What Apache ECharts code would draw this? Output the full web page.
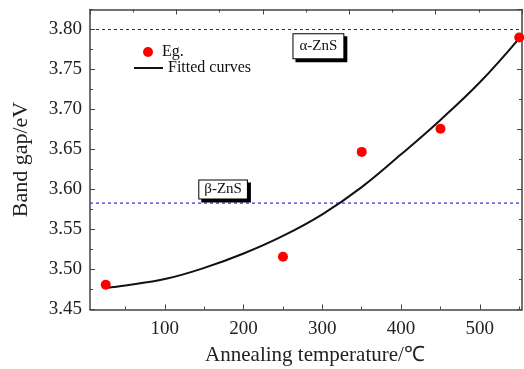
<!DOCTYPE html>
<html>
<head>
<meta charset="utf-8">
<script src="https://cdn.jsdelivr.net/npm/echarts@6/dist/echarts.min.js"></script>
<style>html,body{margin:0;padding:0;background:#fff}#c{width:524px;height:369px}</style>
</head>
<body>
<div id="c"></div>
<script>
// Measured points (Eg.)
const egTemps = [25, 250, 350, 450, 550];
const egValues = [3.481, 3.516, 3.647, 3.676, 3.790];
// Fitted curve
const fitTemps = [25, 50, 100, 150, 200, 250, 300, 350, 400, 450, 500, 550];
const fitValues = [3.477, 3.480, 3.488, 3.502, 3.520, 3.542, 3.569, 3.603, 3.644, 3.687, 3.734, 3.789];
// Reference levels
const alphaLevel = 3.80;
const betaLevel = 3.583;
// Tick labels
const xTicks = [100, 200, 300, 400, 500];
const xMinorTicks = [50, 150, 250, 350, 450, 550];
const yTicks = [3.45, 3.50, 3.55, 3.60, 3.65, 3.70, 3.75, 3.80];
const yMinorTicks = [3.475, 3.525, 3.575, 3.625, 3.675, 3.725, 3.775, 3.825];
const seriesNames = ['Eg.', 'Fitted curves'];
const annotations = ['α-ZnS', 'β-ZnS'];
const axisNames = ['Annealing temperature/℃', 'Band gap/eV'];

const FONT = 'Liberation Serif';
const AX = '#444';
const XMIN = 5, XMAX = 553.5, YMIN = 3.45, YMAX = 3.825;

const chart = echarts.init(document.getElementById('c'), null, {renderer: 'canvas'});
const boxLabel = {
  show: true, position: 'inside', color: '#111', fontFamily: FONT, fontSize: 15,
  backgroundColor: '#fff', borderColor: '#000', borderWidth: 1, padding: [4, 5, 3, 5],
  shadowColor: '#000', shadowOffsetX: 3, shadowOffsetY: 3, shadowBlur: 0
};
const option = {
  animation: false,
  backgroundColor: '#fff',
  grid: {left: 90, right: 2, top: 9.5, bottom: 59.5, containLabel: false, outerBoundsMode: 'none'},
  legend: [
    {data: [{name: seriesNames[0], icon: 'circle'}], left: 143, top: 44, padding: 0, itemWidth: 10, itemHeight: 10, itemGap: 0,
     textStyle: {fontFamily: FONT, fontSize: 16, color: '#111', padding: [0, 0, 0, 4]}},
    {data: [{name: seriesNames[1], icon: 'path://M0,0 L29,0 L29,2 L0,2 Z'}], left: 134, top: 60, padding: 0, itemWidth: 29, itemHeight: 2, itemGap: 0,
     itemStyle: {color: '#111'},
     textStyle: {fontFamily: FONT, fontSize: 16, color: '#111'}}
  ],
  xAxis: [
    {type: 'value', min: XMIN, max: XMAX, position: 'bottom',
     name: axisNames[0], nameLocation: 'middle', nameGap: 35,
     nameTextStyle: {fontFamily: FONT, fontSize: 21, color: '#222', padding: [0, 0, 0, 18]},
     axisLine: {show: true, lineStyle: {color: AX, width: 1.5}},
     axisTick: {show: true, inside: true, length: 5, customValues: xTicks, lineStyle: {color: AX}},
     axisLabel: {show: true, customValues: xTicks, margin: 10, fontFamily: FONT, fontSize: 19, color: '#222'},
     splitLine: {show: false}},
    {type: 'value', min: XMIN, max: XMAX, position: 'bottom',
     axisLine: {show: false},
     axisTick: {show: true, inside: true, length: 3, customValues: xMinorTicks, lineStyle: {color: AX}},
     axisLabel: {show: false}, splitLine: {show: false}},
    {type: 'value', min: 0, max: 10, interval: 2, position: 'top',
     axisLine: {show: true, lineStyle: {color: AX, width: 1.5}},
     axisTick: {show: true, inside: true, length: 5, lineStyle: {color: AX}},
     minorTick: {show: true, splitNumber: 2, length: 3, lineStyle: {color: AX}},
     axisLabel: {show: false}, splitLine: {show: false}}
  ],
  yAxis: [
    {type: 'value', min: YMIN, max: YMAX, position: 'left',
     name: axisNames[1], nameLocation: 'middle', nameGap: 58,
     nameTextStyle: {fontFamily: FONT, fontSize: 22, color: '#222'},
     axisLine: {show: true, lineStyle: {color: AX, width: 1.5}},
     axisTick: {show: true, inside: true, length: 5, customValues: yTicks, lineStyle: {color: AX}},
     axisLabel: {show: true, customValues: yTicks, margin: 8, fontFamily: FONT, fontSize: 19, color: '#222',
                 formatter: v => v.toFixed(2)},
     splitLine: {show: false}},
    {type: 'value', min: YMIN, max: YMAX, position: 'left',
     axisLine: {show: false},
     axisTick: {show: true, inside: true, length: 3, customValues: yMinorTicks, lineStyle: {color: AX}},
     axisLabel: {show: false}, splitLine: {show: false}},
    {type: 'value', min: 0, max: 10, interval: 2, position: 'right',
     axisLine: {show: true, lineStyle: {color: AX, width: 1.5}},
     axisTick: {show: true, inside: true, length: 5, lineStyle: {color: AX}},
     minorTick: {show: true, splitNumber: 2, length: 3, lineStyle: {color: AX}},
     axisLabel: {show: false}, splitLine: {show: false}}
  ],
  series: [
    {name: 'alpha-level', type: 'line', xAxisIndex: 0, yAxisIndex: 0, symbol: 'none', silent: true,
     data: [[XMIN, alphaLevel], [XMAX, alphaLevel]],
     lineStyle: {color: '#333', type: [3, 3], width: 1}, z: 2},
    {name: 'beta-level', type: 'line', xAxisIndex: 0, yAxisIndex: 0, symbol: 'none', silent: true,
     data: [[XMIN, betaLevel], [XMAX, betaLevel]],
     lineStyle: {color: '#2a2ae0', type: [3, 3], width: 1.2}, z: 2},
    {name: seriesNames[1], type: 'line', xAxisIndex: 0, yAxisIndex: 0, smooth: 0.4, symbol: 'none',
     data: fitTemps.map((t, i) => [t, fitValues[i]]),
     lineStyle: {color: '#111', width: 2}, itemStyle: {color: '#111'}, z: 3},
    {name: seriesNames[0], type: 'scatter', xAxisIndex: 0, yAxisIndex: 0, symbol: 'circle', symbolSize: 10,
     data: egTemps.map((t, i) => [t, egValues[i]]),
     itemStyle: {color: '#ff0000', opacity: 1}, z: 4,
     markPoint: {silent: true, symbol: 'rect', symbolSize: 1, itemStyle: {color: 'rgba(0,0,0,0)'},
       label: boxLabel,
       data: [
         {coord: [295, 3.779], value: annotations[0], label: {formatter: annotations[0], padding: [5, 6, 4, 6]}},
         {coord: [174, 3.600], value: annotations[1], label: {formatter: annotations[1], padding: [2, 5, 1, 5]}}
       ]}}
  ]
};
chart.setOption(option);
</script>
</body>
</html>
